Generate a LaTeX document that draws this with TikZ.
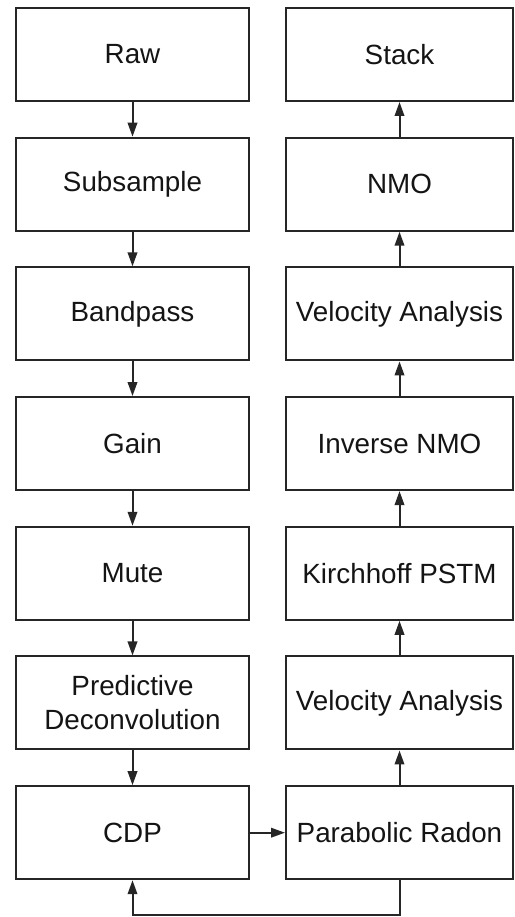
\documentclass[tikz,border=0pt]{standalone}
\usepackage{fontspec}
\setmainfont{Liberation Sans}
\usetikzlibrary{arrows.meta}
\begin{document}
\begin{tikzpicture}[x=1pt,y=1pt,
  box/.style={draw=black!85, line width=2pt, minimum width=233pt, minimum height=93pt,
    inner sep=0pt, align=center, font=\fontsize{27.8}{34}\selectfont, text=black!92},
  rbox/.style={box, minimum width=227pt},
  arr/.style={-{Triangle[length=14pt,width=9.5pt]}, line width=2pt, draw=black!85}]
\useasboundingbox (0,0) rectangle (514,917);
% left column
\node[box] (raw)  at (132.5,862.5) {Raw};
\node[box] (sub)  at (132.5,732.8) {Subsample};
\node[box] (band) at (132.5,603.1) {Bandpass};
\node[box] (gain) at (132.5,473.4) {Gain};
\node[box] (mute) at (132.5,343.7) {Mute};
\node[box] (pd)   at (132.5,214.0) {Predictive\\Deconvolution};
\node[box] (cdp)  at (132.5,84.3) {CDP};
% right column
\node[rbox] (stack) at (399.5,862.5) {Stack};
\node[rbox] (nmo)   at (399.5,732.8) {NMO};
\node[rbox] (va1)   at (399.5,603.1) {Velocity Analysis};
\node[rbox] (inmo)  at (399.5,473.4) {Inverse NMO};
\node[rbox] (kp)    at (399.5,343.7) {Kirchhoff PSTM};
\node[rbox] (va2)   at (399.5,214.0) {Velocity Analysis};
\node[rbox] (pr)    at (399.5,84.3) {Parabolic Radon};
\coordinate (lb) at (0,2);
% left arrows
\draw[arr] (raw) -- (sub);
\draw[arr] (sub) -- (band);
\draw[arr] (band) -- (gain);
\draw[arr] (gain) -- (mute);
\draw[arr] (mute) -- (pd);
\draw[arr] (pd) -- (cdp);
% cross
\draw[arr] (cdp) -- (pr);
% right arrows (upwards)
\draw[arr] (pr) -- (va2);
\draw[arr] (va2) -- (kp);
\draw[arr] (kp) -- (inmo);
\draw[arr] (inmo) -- (va1);
\draw[arr] (va1) -- (nmo);
\draw[arr] (nmo) -- (stack);
% loop back
\draw[arr] (pr.south) -- (pr.south |- lb) -| (cdp.south);
\end{tikzpicture}
\end{document}
